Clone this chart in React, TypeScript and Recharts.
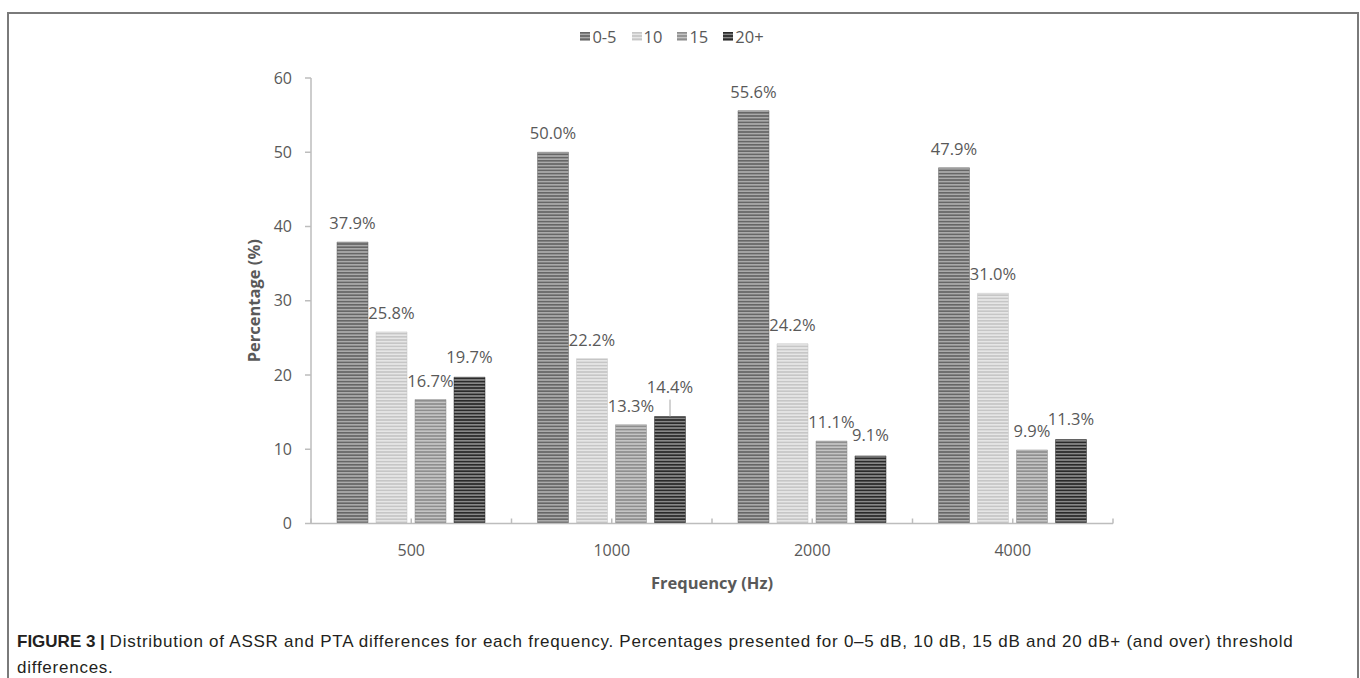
import React from "react"
import { Bar, BarChart, LabelList, XAxis, YAxis } from "recharts"

const frequencies = ["500", "1000", "2000", "4000"]
const seriesNames = ["0-5", "10", "15", "20+"]
const diff0to5 = [37.9, 50.0, 55.6, 47.9]
const diff10 = [25.8, 22.2, 24.2, 31.0]
const diff15 = [16.7, 13.3, 11.1, 9.9]
const diff20plus = [19.7, 14.4, 9.1, 11.3]
const yTicks = [0, 10, 20, 30, 40, 50, 60]

const seriesKeys = ["d05", "d10", "d15", "d20"]
const seriesValues = [diff0to5, diff10, diff15, diff20plus]

const data = frequencies.map((f, i) => {
  const row: Record<string, string | number> = { freq: f }
  seriesKeys.forEach((k, s) => (row[k] = seriesValues[s][i]))
  return row
})

// stripe colours for each series: [dark, light]
const stripes = [
  ["#666666", "#aaaaaa"],
  ["#c6c6c6", "#e6e6e6"],
  ["#8e8e8e", "#c4c4c4"],
  ["#2a2a2a", "#888888"],
]

const FONT = "'Open Sans', sans-serif"
const TEXT = "#595959"
const AXIS = "#bdbdbd"

const CHART_W = 1360
const CHART_H = 620
const Y_W = 100
const margin = { top: 78, right: 247, bottom: 36.5, left: 211 }
const plotW = CHART_W - margin.left - margin.right - Y_W
const catStep = plotW / frequencies.length

const fmt = (v: any) => `${Number(v).toFixed(1)}%`

function Patterns() {
  return (
    <svg width={0} height={0} style={{ position: "absolute" }}>
      <defs>
        {stripes.map(([dark, light], i) => (
          <pattern key={i} id={`stripe${i}`} width={8} height={3.2} patternUnits="userSpaceOnUse">
            <rect width={8} height={3.2} fill={light} />
            <rect width={8} height={1.6} fill={dark} />
          </pattern>
        ))}
      </defs>
    </svg>
  )
}

function XTick(props: any) {
  const { x, y, payload, index } = props
  const half = catStep / 2
  const marks = [x - half, x]
  if (index === frequencies.length - 1) marks.push(x + half)
  return (
    <g>
      {marks.map((mx, i) => (
        <line key={i} x1={mx} x2={mx} y1={y} y2={y - 5} stroke={AXIS} strokeWidth={1.5} />
      ))}
      <text x={x} y={y + 26} textAnchor="middle" dominantBaseline="central" fill={TEXT} fontSize={16} fontFamily={FONT}>
        {payload.value}
      </text>
    </g>
  )
}

// 20+ label: lifted with a leader line when it would collide with the 15 label
function LastLabel(props: any) {
  const { x, y, width, value, index } = props
  const cx = x + width / 2
  const crowded = Math.abs(Number(value) - diff15[index]) < 1.2
  const lift = crowded ? 9 : 0
  const ty = y - 21 - lift
  return (
    <g>
      {crowded && <line x1={cx} x2={cx} y1={ty + 13} y2={y} stroke="#a6a6a6" strokeWidth={1} />}
      <text x={cx} y={ty} textAnchor="middle" dominantBaseline="central" fill={TEXT} fontSize={16.5} fontFamily={FONT}>
        {fmt(value)}
      </text>
    </g>
  )
}

function Legend() {
  return (
    <div
      style={{
        position: "absolute",
        left: 0,
        top: 25,
        width: 1360,
        display: "flex",
        justifyContent: "center",
        gap: 15,
        fontFamily: FONT,
        fontSize: 16.5,
        color: TEXT,
        paddingRight: 16,
        boxSizing: "border-box",
      }}
    >
      {seriesNames.map((name, i) => (
        <div key={name} style={{ display: "flex", alignItems: "center", gap: 2 }}>
          <svg width={10} height={9}>
            <rect width={10} height={9} fill={`url(#stripe${i})`} />
          </svg>
          <span>{name}</span>
        </div>
      ))}
    </div>
  )
}

export default function App() {
  return (
    <div style={{ position: "absolute", left: 0, top: 0, width: 1360, height: 678, background: "#fff" }}>
      <Patterns />
      <div
        style={{
          position: "absolute",
          left: 7,
          top: 12,
          width: 1348,
          height: 700,
          border: "2px solid #7a7a7a",
          borderBottom: "none",
        }}
      />
      <Legend />
      <div style={{ position: "absolute", left: 0, top: 0 }}>
        <BarChart width={CHART_W} height={CHART_H} data={data} margin={margin} barSize={31} barGap={8}>
          <XAxis
            dataKey="freq"
            height={60}
            tickSize={0}
            tickMargin={0}
            tickLine={false}
            axisLine={{ stroke: AXIS, strokeWidth: 1.5 }}
            tick={<XTick />}
            interval={0}
            label={({ viewBox }: any) => (
              <text
                x={viewBox.x + viewBox.width / 2}
                y={viewBox.y + 59}
                textAnchor="middle"
                dominantBaseline="central"
                fill={TEXT}
                fontSize={16.5}
                fontWeight="bold"
                fontFamily={FONT}
              >
                Frequency (Hz)
              </text>
            )}
          />
          <YAxis
            width={Y_W}
            domain={[0, 60]}
            ticks={yTicks}
            interval={0}
            tickSize={6}
            tickMargin={13}
            axisLine={{ stroke: AXIS, strokeWidth: 1.5 }}
            tickLine={{ stroke: AXIS, strokeWidth: 1.5 }}
            tick={{ fill: TEXT, fontSize: 16, fontFamily: FONT }}
            label={({ viewBox }: any) => {
              const cx = viewBox.x + 42
              const cy = viewBox.y + viewBox.height / 2
              return (
                <text
                  x={cx}
                  y={cy}
                  transform={`rotate(-90 ${cx} ${cy})`}
                  textAnchor="middle"
                  dominantBaseline="central"
                  fill={TEXT}
                  fontSize={16.5}
                  fontWeight="bold"
                  fontFamily={FONT}
                >
                  Percentage (%)
                </text>
              )
            }}
          />
          {seriesKeys.map((k, i) => (
            <Bar key={k} dataKey={k} name={seriesNames[i]} fill={`url(#stripe${i})`} stroke={stripes[i][0]} strokeOpacity={0.5} isAnimationActive={false}>
              {i === seriesKeys.length - 1 ? (
                <LabelList dataKey={k} content={<LastLabel />} />
              ) : (
                <LabelList
                  dataKey={k}
                  position="top"
                  offset={13}
                  formatter={fmt}
                  fill={TEXT}
                  fontSize={16.5}
                  fontFamily={FONT}
                />
              )}
            </Bar>
          ))}
        </BarChart>
      </div>
      <div
        style={{
          position: "absolute",
          left: 17,
          top: 629,
          width: 1320,
          fontFamily: "'Liberation Sans', Arial, sans-serif",
          fontSize: 17,
          lineHeight: "26px",
          color: "#231f20",
        }}
      >
        <b>FIGURE 3 | </b>
        <span style={{ letterSpacing: 0.75 }}>
          Distribution of ASSR and PTA differences for each frequency. Percentages presented for 0–5 dB, 10 dB, 15 dB and 20 dB+ (and over) threshold differences.
        </span>
      </div>
    </div>
  )
}
